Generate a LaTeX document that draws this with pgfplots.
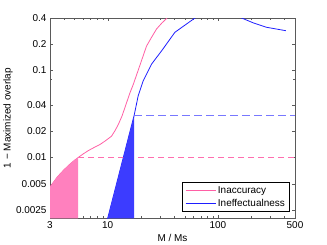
\documentclass[border=0pt]{standalone}
\usepackage{fontspec}
\setmainfont{Liberation Sans}
\usepackage{pgfplots}
\pgfplotsset{compat=1.18}
\definecolor{pinkline}{RGB}{255,95,165}
\definecolor{pinkfill}{RGB}{255,128,190}
\definecolor{pinkdash}{RGB}{255,110,175}
\definecolor{blueline}{RGB}{30,30,255}
\definecolor{bluefill}{RGB}{60,60,255}
\definecolor{bluedash}{RGB}{120,120,255}
\definecolor{axgray}{RGB}{90,90,90}
\begin{document}
\begin{tikzpicture}[x=1bp,y=1bp]
\useasboundingbox (0,0) rectangle (327,245);
\begin{axis}[
 at={(50bp,26.6bp)}, anchor=south west,
 scale only axis, width=245bp, height=200.4bp,
 xmode=log, ymode=log,
 xmin=3, xmax=500, ymin=0.002, ymax=0.4,
 xtick={3,10,100,500}, xticklabels={3,10,100,500},
 minor xtick={4,5,6,7,8,9,20,30,40,50,60,70,80,90,200,300,400},
 ytick={0.0025,0.005,0.01,0.02,0.04,0.1,0.2,0.4},
 yticklabels={0.0025,0.005,0.01,0.02,0.04,0.1,0.2,0.4},
 minor ytick={0.08},
 tick align=inside,
 major tick length=3bp, minor tick length=2bp,
 axis line style={axgray, line width=0.7bp},
 tick style={axgray},
 tick label style={font=\fontsize{10}{12}\selectfont},
 label style={font=\fontsize{10}{12}\selectfont},
 ylabel={1 − Maximized overlap},
 ylabel style={at={(axis description cs:-0.1714,0.5)}, anchor=center, rotate=0},
 xlabel={M / Ms},
 xlabel style={at={(axis description cs:0.5,-0.098)}, anchor=center},
 legend style={at={(axis description cs:0.98,0.032)}, anchor=south east, draw=black, line width=0.6bp, font=\fontsize{10}{12}\selectfont, inner xsep=3bp, inner ysep=2bp, row sep=0.5bp},
 legend cell align=left,
 legend image code/.code={\draw[#1] (0bp,0bp) -- (30bp,0bp);},
]
\addplot[pinkline, line width=0.8bp] coordinates {(3,0.0046) (3.5,0.0060) (4,0.0072) (4.5,0.0083) (5,0.0093) (5.4,0.0100) (6,0.011) (6.67,0.012) (7.5,0.013) (8.5,0.0141) (9.5,0.0155) (10.85,0.0176) (11.7,0.0205) (12.5,0.024) (13.5,0.030) (14.4,0.038) (15.9,0.055) (17,0.068) (18.9,0.10) (22.5,0.19) (25,0.24) (27.8,0.30) (31,0.35) (34.6,0.4) (37,0.45)};
\addplot[blueline, line width=0.8bp] coordinates {(9.5,0.00155) (10,0.002) (17.4,0.0306) (18.9,0.0508) (21,0.0758) (25,0.118) (31.7,0.176) (40.7,0.274) (61.9,0.4) (100,0.55) (140,0.48) (164,0.4) (209,0.352) (276,0.313) (413,0.286)};
\legend{Inaccuracy,Ineffectualness}
\addplot[pinkdash, line width=0.8bp, dashed, dash pattern=on 6bp off 4bp] coordinates {(5.4,0.01) (500,0.01)};
\addplot[bluedash, line width=1.2bp, dashed, dash pattern=on 8bp off 4bp] coordinates {(17.4,0.0306) (500,0.0306)};
\addplot[draw=none, fill=pinkfill] coordinates {(3,0.002) (3,0.0046) (3.5,0.0060) (4,0.0072) (4.5,0.0083) (5,0.0093) (5.4,0.0100) (5.4,0.002)} -- cycle;
\addplot[draw=none, fill=bluefill] coordinates {(10,0.002) (17.4,0.0306) (17.4,0.002)} -- cycle;
\end{axis}
\end{tikzpicture}
\end{document}
